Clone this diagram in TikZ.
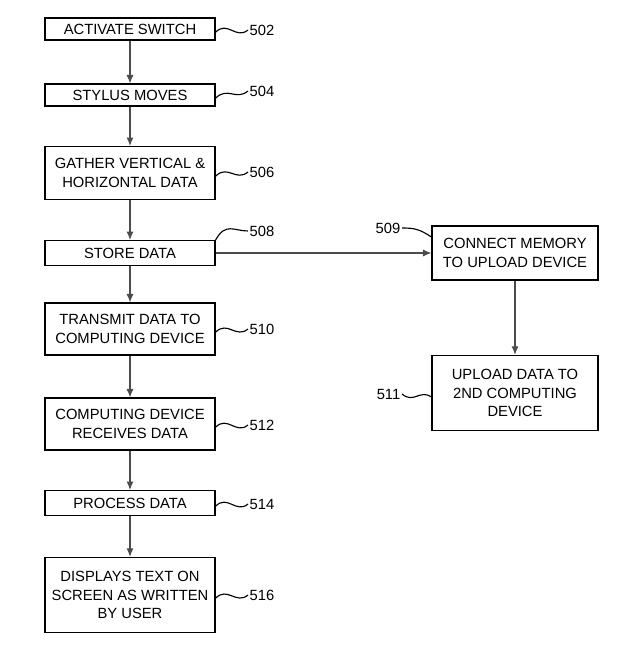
\documentclass[tikz,border=0pt]{standalone}
\usepackage{fontspec}
\setmainfont{Liberation Sans}
\usetikzlibrary{arrows.meta,positioning}
\begin{document}
\begin{tikzpicture}[x=0.025cm,y=-0.025cm,
    box/.style={draw,thick,align=center,font=\fontsize{10.5}{13}\selectfont,inner sep=1pt},
    ref/.style={font=\fontsize{10.5}{12}\selectfont,anchor=west,inner sep=1pt},
    flow/.style={-{Latex[length=6pt,width=5pt]},thick,gray!60!black},
    lead/.style={thick}
  ]
    \useasboundingbox (0,0) rectangle (640,655);
    % left column
    \node[box,minimum width=4.25cm,minimum height=0.55cm] (s502) at (130,29) {ACTIVATE SWITCH};
    \node[box,minimum width=4.25cm,minimum height=0.55cm] (s504) at (130,95) {STYLUS MOVES};
    \node[box,minimum width=4.25cm,minimum height=1.32cm] (s506) at (130,173) {GATHER VERTICAL \&\\HORIZONTAL DATA};
    \node[box,minimum width=4.25cm,minimum height=0.62cm] (s508) at (130,253) {STORE DATA};
    \node[box,minimum width=4.25cm,minimum height=1.3cm] (s510) at (130,329) {TRANSMIT DATA TO\\COMPUTING DEVICE};
    \node[box,minimum width=4.25cm,minimum height=1.3cm] (s512) at (130,424) {COMPUTING DEVICE\\RECEIVES DATA};
    \node[box,minimum width=4.25cm,minimum height=0.62cm] (s514) at (130,503) {PROCESS DATA};
    \node[box,minimum width=4.25cm,minimum height=1.88cm] (s516) at (130,595) {DISPLAYS TEXT ON\\SCREEN AS WRITTEN\\BY USER};
    % right column
    \node[box,minimum width=4.15cm,minimum height=1.35cm] (s509) at (515,253) {CONNECT MEMORY\\TO UPLOAD DEVICE};
    \node[box,minimum width=4.15cm,minimum height=1.88cm] (s511) at (515,393) {UPLOAD DATA TO\\2ND COMPUTING\\DEVICE};
    % flow arrows
    \draw[flow] (s502) -- (s504);
    \draw[flow] (s504) -- (s506);
    \draw[flow] (s506) -- (s508);
    \draw[flow] (s508) -- (s510);
    \draw[flow] (s510) -- (s512);
    \draw[flow] (s512) -- (s514);
    \draw[flow] (s514) -- (s516);
    \draw[flow] (s508) -- (s509);
    \draw[flow] (s509) -- (s511);
    % reference numerals
    \node[ref] (n502) at (248,30) {502};
    \node[ref] (n504) at (248,91) {504};
    \node[ref] (n506) at (248,172) {506};
    \node[ref] (n508) at (248,231) {508};
    \node[ref] (n510) at (248,329) {510};
    \node[ref] (n512) at (248,425) {512};
    \node[ref] (n514) at (248,504) {514};
    \node[ref] (n516) at (248,595) {516};
    \node[ref,anchor=east] (n509) at (402,228) {509};
    \node[ref,anchor=east] (n511) at (402,394) {511};
    % leaders
    \foreach \n in {502,504,506,510,512,514,516}
      \draw[lead] ([yshift=-0.08cm]s\n.east) .. controls +(12,-12) and +(-12,10) .. (n\n.west);
    \draw[lead] (s508.north east) .. controls +(10,-18) and +(-14,0) .. (n508.west);
    \draw[lead] (n509.east) .. controls +(12,0) and +(-12,-8) .. ([yshift=0.4cm]s509.west);
    \draw[lead] (n511.east) .. controls +(12,10) and +(-12,-8) .. ([yshift=-0.1cm]s511.west);
\end{tikzpicture}
\end{document}
